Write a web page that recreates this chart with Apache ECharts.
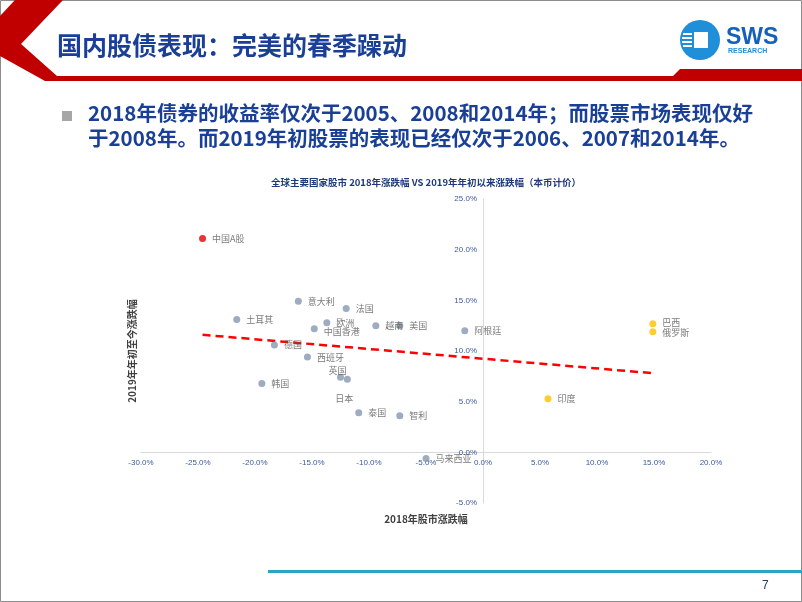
<!DOCTYPE html>
<html><head><meta charset="utf-8">
<script src="https://cdn.jsdelivr.net/npm/echarts@6/dist/echarts.min.js"></script>
<style>html,body{margin:0;padding:0;background:#fff;}#c{width:802px;height:602px;}</style>
</head><body><div id="c"></div>
<script>
// ---- data ----
const names = ['中国A股','意大利','法国','土耳其','欧洲','中国香港','越南','美国','阿根廷','德国','西班牙','英国','日本','韩国','泰国','智利','马来西亚','巴西','俄罗斯','印度'];
const ret2018 = [-24.6,-16.2,-12.0,-21.6,-13.7,-14.8,-9.4,-7.3,-1.6,-18.3,-15.4,-12.5,-11.9,-19.4,-10.9,-7.3,-5.0,14.9,14.9,5.7];
const ret2019 = [21.1,14.9,14.2,13.1,12.8,12.2,12.5,12.5,12.0,10.6,9.4,7.4,7.2,6.8,3.9,3.6,-0.6,12.7,11.9,5.3];
const groups = ['cn','dev','dev','dev','dev','dev','dev','dev','dev','dev','dev','dev','dev','dev','dev','dev','dev','em','em','em'];
const trendX = [-24.6, 15.0];
const trendY = [11.6, 7.8];
const xRange = [-30, 20];
const yRange = [-5, 25];
const tickStep = 5;

const groupColor = {cn:'#e00000', dev:'#8497b0', em:'#ffc000'};
const labelTweak = {
  '英国': {position:'top', distance:1, offset:[-3,2]},
  '日本': {position:'bottom', distance:11, offset:[-3,0]},
  '中国香港': {offset:[0,3]},
  '巴西': {offset:[0,-1]},
  '俄罗斯': {offset:[0,1]}
};

const points = names.map((n,i)=>{
  const lab = Object.assign({show:true, position:'right', distance:6}, labelTweak[n]||{});
  return {name:n, value:[ret2018[i], ret2019[i]], itemStyle:{color:groupColor[groups[i]]}, label:lab};
});

const W = 802, H = 602;
const grid = {left:141, right:91, top:199, bottom:99};
const plotW = W - grid.left - grid.right, plotH = H - grid.top - grid.bottom;
// place axes at the zero crossing of the other axis
const xAxisOffset = -((0 - yRange[0]) / (yRange[1] - yRange[0])) * plotH;
const yAxisOffset = -((0 - xRange[0]) / (xRange[1] - xRange[0])) * plotW;

const chart = echarts.init(document.getElementById('c'), null, {renderer:'canvas'});
const fmt = v => v.toFixed(1) + '%';
const tickFont = {color:'#3d5a9c', fontSize:8, fontFamily:'Liberation Sans, Arial, sans-serif'};

const option = {
  backgroundColor:'#ffffff',
  animation:false,
  title:{
    text:'全球主要国家股市 2018年涨跌幅 VS 2019年年初以来涨跌幅（本币计价）',
    left:266, top:173,
    textStyle:{fontSize:9.5, fontWeight:'bold', color:'#1f3a7a', fontFamily:'Noto Sans CJK SC, sans-serif'}
  },
  grid:Object.assign({containLabel:false, outerBoundsMode:'none'}, grid),
  xAxis:{
    type:'value', min:xRange[0], max:xRange[1], interval:tickStep,
    position:'bottom', offset:xAxisOffset,
    name:'2018年股市涨跌幅', nameLocation:'middle', nameGap:62,
    nameTextStyle:{fontSize:10, fontWeight:'bold', color:'#404040', fontFamily:'Noto Sans CJK SC, sans-serif'},
    axisLine:{show:true, onZero:false, lineStyle:{color:'#d9d9d9', width:1}},
    axisTick:{show:false},
    splitLine:{show:false},
    axisLabel:Object.assign({formatter:fmt, margin:6}, tickFont)
  },
  yAxis:{
    type:'value', min:yRange[0], max:yRange[1], interval:tickStep,
    position:'left', offset:yAxisOffset,
    name:'2019年年初至今涨跌幅', nameLocation:'middle', nameRotate:90, nameGap:346,
    nameTextStyle:{fontSize:10, fontWeight:'bold', color:'#404040', fontFamily:'Noto Sans CJK SC, sans-serif'},
    axisLine:{show:true, onZero:false, lineStyle:{color:'#d9d9d9', width:1}},
    axisTick:{show:false},
    splitLine:{show:false},
    axisLabel:Object.assign({formatter:fmt, margin:6}, tickFont)
  },
  series:[
    {
      type:'line', data:trendX.map((x,i)=>[x,trendY[i]]),
      symbol:'none', silent:true, z:1,
      lineStyle:{color:'#ff0000', width:2.5, type:[8,5]}
    },
    {
      type:'scatter', data:points, symbolSize:7, z:3,
      label:{show:true, formatter:'{b}', fontSize:9, color:'#595959', fontFamily:'Noto Sans CJK SC, sans-serif'}
    }
  ],
  graphic:[
    {type:'rect', shape:{x:0.5,y:0.5,width:801,height:601}, style:{fill:'none', stroke:'#8c8c8c', lineWidth:1}, z:-10},
    {type:'polygon', shape:{points:[[15,0],[63,0],[21,44],[57,76],[673,76],[680,69],[802,69],[802,81],[45,81],[0,56],[0,16]]}, style:{fill:'#c00000'}},
    {type:'text', left:57, top:33, style:{text:'国内股债表现：完美的春季躁动', fontSize:25, fontWeight:'bold', fill:'#1a3f96', fontFamily:'Noto Sans CJK SC, sans-serif'}},
    {type:'circle', shape:{cx:700, cy:40, r:20}, style:{fill:'#1e8fd8'}},
    {type:'rect', shape:{x:694, y:32, width:14, height:16}, style:{fill:'#ffffff'}},
    {type:'rect', shape:{x:683, y:33, width:9, height:2}, style:{fill:'#ffffff'}},
    {type:'rect', shape:{x:682, y:37, width:10, height:2}, style:{fill:'#ffffff'}},
    {type:'rect', shape:{x:682, y:41, width:10, height:2}, style:{fill:'#ffffff'}},
    {type:'rect', shape:{x:683, y:45, width:9, height:2}, style:{fill:'#ffffff'}},
    {type:'text', left:726, top:26, style:{text:'SWS', fontSize:23, fontWeight:'bold', fill:'#1560bd', fontFamily:'Liberation Sans, Arial, sans-serif'}},
    {type:'text', left:728, top:48, style:{text:'RESEARCH', fontSize:7, fontWeight:'bold', fill:'#1e8fd8', fontFamily:'Liberation Sans, Arial, sans-serif'}},
    {type:'rect', shape:{x:62, y:111, width:10, height:10}, style:{fill:'#a6a6a6'}},
    {type:'text', left:88, top:103, style:{text:'2018年债券的收益率仅次于2005、2008和2014年；而股票市场表现仅好', fontSize:20.5, fontWeight:'bold', fill:'#1a3f96', fontFamily:'Noto Sans CJK SC, sans-serif'}},
    {type:'text', left:88, top:128, style:{text:'于2008年。而2019年初股票的表现已经仅次于2006、2007和2014年。', fontSize:20.5, fontWeight:'bold', fill:'#1a3f96', fontFamily:'Noto Sans CJK SC, sans-serif'}},
    {type:'rect', shape:{x:268, y:570, width:534, height:3}, style:{fill:'#2aa5c6'}},
    {type:'text', left:762, top:580, style:{text:'7', fontSize:12, fill:'#1f3864', fontFamily:'Liberation Sans, Arial, sans-serif'}}
  ]
};
chart.setOption(option);
</script>
</body></html>
